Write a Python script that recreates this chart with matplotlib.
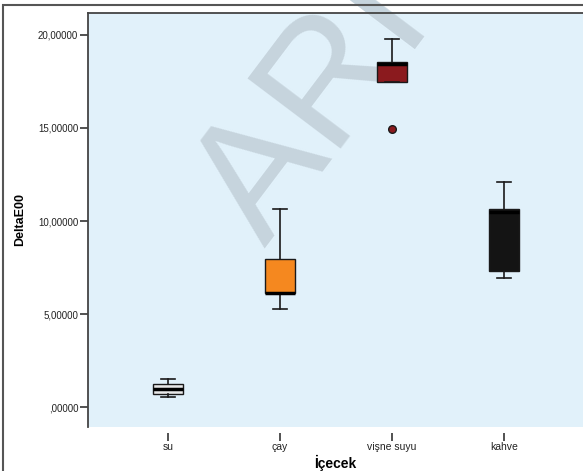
import matplotlib
matplotlib.use("Agg")
import matplotlib.pyplot as plt
from matplotlib.patches import Rectangle
from matplotlib.ticker import FuncFormatter

plt.rcParams['font.family'] = ['Liberation Sans', 'DejaVu Sans']

# values
groups = ['su', 'çay', 'vişne suyu', 'kahve']
whisker_low = [0.55, 5.25, 17.46, 6.92]
q1 = [0.68, 6.11, 17.46, 7.33]
median = [0.97, 6.15, 18.46, 10.50]
q3 = [1.22, 7.94, 18.55, 10.65]
whisker_high = [1.49, 10.65, 19.78, 12.08]
outliers = [[], [], [14.95], []]
box_colors = ['#e8e8e8', '#f5881f', '#8b1a1e', '#141414']
y_ticks = [0, 5, 10, 15, 20]

fig = plt.figure(figsize=(5.83, 4.71), dpi=100)
ax = fig.add_axes([88 / 583, 1 - 427 / 471, 1 - 88 / 583, (427 - 13) / 471])
ax.set_facecolor('#e1f1fa')

stats = []
for i, g in enumerate(groups):
    stats.append(dict(label=g, whislo=whisker_low[i], q1=q1[i], med=median[i],
                      q3=q3[i], whishi=whisker_high[i], fliers=outliers[i]))

positions = list(range(1, len(groups) + 1))
bp = ax.bxp(stats, positions=positions, widths=0.26, capwidths=0.13,
            patch_artist=True, showfliers=True,
            boxprops=dict(edgecolor='#1a1a1a', linewidth=1.0),
            medianprops=dict(color='#000000', linewidth=2.5),
            whiskerprops=dict(color='#1a1a1a', linewidth=1.2),
            capprops=dict(color='#1a1a1a', linewidth=1.2),
            flierprops=dict(marker='o', markersize=5.5, markerfacecolor='#8b1a1e',
                            markeredgecolor='#1a1a1a', markeredgewidth=1.0))
for patch, c in zip(bp['boxes'], box_colors):
    patch.set_facecolor(c)

ax.set_xlim(0.286, 4.705)
ax.set_ylim(-1.07, 21.18)

ax.set_yticks(y_ticks)
ax.yaxis.set_major_formatter(FuncFormatter(
    lambda v, p: ',00000' if v == 0 else f'{v:.5f}'.replace('.', ',')))
ax.set_xticks(positions)
ax.set_xticklabels(groups)

ax.tick_params(axis='y', direction='out', length=6, width=1.2, color='#333333',
               labelsize=7, labelcolor='#222222', pad=1)
ax.tick_params(axis='x', direction='out', length=6, width=1.2, color='#333333',
               labelsize=7.5, labelcolor='#222222', pad=1)

for side in ['left', 'top']:
    ax.spines[side].set_color('#444444')
    ax.spines[side].set_linewidth(1.3)
ax.spines['right'].set_visible(False)
ax.spines['bottom'].set_position(('outward', 4))
ax.spines['bottom'].set_visible(False)

ax.set_ylabel('DeltaE00', fontsize=9, fontweight='bold')
ax.set_xlabel('İçecek', fontsize=10, fontweight='bold', labelpad=2)
ax.yaxis.set_label_coords(-0.126, 0.5)

# outer frame
fig.patches.append(Rectangle((3 / 583, -0.1), 1.2, 1.1 - 5 / 471,
                             transform=fig.transFigure, fill=False,
                             edgecolor='#555555', linewidth=1.5))

# watermark, behind the boxes
ax.text(316 / 583, 1 - 110 / 471, 'ARI', transform=fig.transFigure,
        fontsize=122, rotation=53, color='#c6d4dd', ha='center', va='center',
        zorder=1.5, clip_on=False)

fig.savefig('out.png', dpi=100)
